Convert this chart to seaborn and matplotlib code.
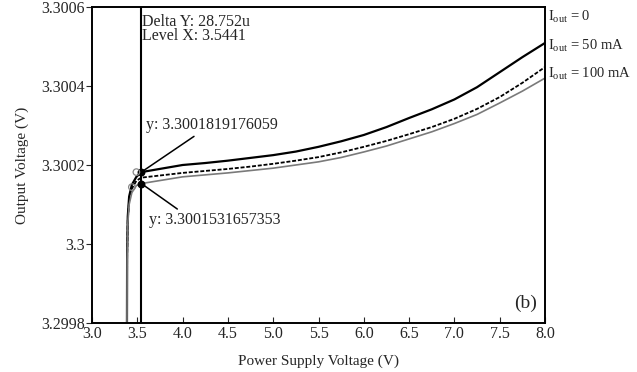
import matplotlib
matplotlib.use("Agg")
import matplotlib.pyplot as plt
import seaborn as sns
import pandas as pd

# ---- data ----
vin = [3.385, 3.388, 3.395, 3.41, 3.44, 3.49, 3.5441,
       4.0, 4.25, 4.5, 4.75, 5.0, 5.25, 5.5, 5.75, 6.0, 6.25, 6.5, 6.75, 7.0, 7.25, 7.5, 7.75, 8.0]
vout_0 = [3.29970, 3.29998, 3.30007, 3.30012, 3.30015, 3.300170, 3.300182,
          3.300200, 3.300205, 3.300211, 3.300218, 3.300225, 3.300234, 3.300246, 3.300260,
          3.300276, 3.300296, 3.300319, 3.300341, 3.300366, 3.300397, 3.300435, 3.300473, 3.300509]
vout_50 = [3.29970, 3.29997, 3.30006, 3.30011, 3.30014, 3.300160, 3.300168,
           3.300180, 3.300185, 3.300190, 3.300196, 3.300203, 3.300211, 3.300220, 3.300232,
           3.300246, 3.300261, 3.300278, 3.300296, 3.300317, 3.300342, 3.300372, 3.300408, 3.300448]
vout_100 = [3.29970, 3.29996, 3.30005, 3.30010, 3.30013, 3.300148, 3.300153,
            3.300170, 3.300175, 3.300180, 3.300186, 3.300192, 3.300200, 3.300208, 3.300219,
            3.300233, 3.300248, 3.300266, 3.300284, 3.300305, 3.300328, 3.300357, 3.300387, 3.300420]
series_names = ["Iout = 0", "Iout = 50 mA", "Iout = 100 mA"]
series_labels = [r"$\mathregular{I_{out}}$ = 0", r"$\mathregular{I_{out}}$ = 50 mA",
                 r"$\mathregular{I_{out}}$ = 100 mA"]
cursor_x = 3.5441
cursor_y = [3.3001819176059, 3.3001531657353]
cursor_labels = ["y: 3.3001819176059", "y: 3.3001531657353"]
other_x = [3.49, 3.44]
other_y = [3.300182, 3.300144]
delta_text = ["Delta Y: 28.752u", "Level X: 3.5441"]
xticks = [3.0, 3.5, 4.0, 4.5, 5.0, 5.5, 6.0, 6.5, 7.0, 7.5, 8.0]
yticks = [3.2998, 3.3, 3.3002, 3.3004, 3.3006]
ytick_labels = ["3.2998", "3.3", "3.3002", "3.3004", "3.3006"]

df = pd.DataFrame({
    "Power Supply Voltage (V)": vin * 3,
    "Output Voltage (V)": vout_0 + vout_50 + vout_100,
    "series": [series_names[0]] * len(vin) + [series_names[1]] * len(vin) + [series_names[2]] * len(vin),
})

sns.set_style("ticks")
plt.rcParams["font.family"] = ["Liberation Serif", "DejaVu Serif"]
plt.rcParams["mathtext.fontset"] = "custom"
plt.rcParams["mathtext.rm"] = "Liberation Serif"

fig = plt.figure(figsize=(6.37, 3.72), dpi=100)
ax = fig.add_axes([0.1444, 0.1317, 0.7112, 0.8495])

palette = {series_names[0]: "black", series_names[1]: "black", series_names[2]: "#7a7a7a"}
dashes = {series_names[0]: "", series_names[1]: (2.2, 1.0), series_names[2]: ""}
sns.lineplot(data=df, x="Power Supply Voltage (V)", y="Output Voltage (V)", hue="series",
             style="series", palette=palette, dashes=dashes, legend=False, ax=ax,
             linewidth=1.4, sort=False)
for ln, lw in zip(ax.get_lines(), [1.6, 1.3, 1.2]):
    ln.set_linewidth(lw)
    ln.set_solid_joinstyle("round")

# cursor line
ax.axvline(cursor_x, color="black", lw=1.5)

# cursor markers
ax.scatter([cursor_x, cursor_x], cursor_y, s=22, color="black", zorder=5)
ax.scatter(other_x, other_y, s=22, facecolors="none",
           edgecolors="#888888", linewidths=0.9, zorder=5)

ax.annotate(cursor_labels[0], xy=(cursor_x, cursor_y[0]), xytext=(3.597, 3.300301),
            fontsize=11.5, va="center", ha="left",
            arrowprops=dict(arrowstyle="-", color="black", lw=1.1, relpos=(0.4, 0.0),
                            shrinkA=0, shrinkB=0))
ax.annotate(cursor_labels[1], xy=(cursor_x, cursor_y[1]), xytext=(3.63, 3.300060),
            fontsize=11.5, va="center", ha="left",
            arrowprops=dict(arrowstyle="-", color="black", lw=1.1, relpos=(0.25, 1.0),
                            shrinkA=0, shrinkB=0))

ax.text(cursor_x + 0.005, 3.300583, delta_text[0] + "\n" + delta_text[1], fontsize=11.5,
        va="top", ha="left", linespacing=0.82)

ax.text(7.78, 3.29985, "(b)", fontsize=14, ha="center", va="center")

# right-side labels
for lab, yv in zip(series_labels, [3.300574, 3.300502, 3.300430]):
    ax.text(8.03, yv, lab, fontsize=10.5, ha="left", va="center", clip_on=False)

ax.set_xlim(3.0, 8.0)
ax.set_ylim(3.2998, 3.3006)
ax.set_xticks(xticks)
ax.set_xticklabels([f"{t:.1f}" for t in xticks])
ax.set_yticks(yticks)
ax.set_yticklabels(ytick_labels)
ax.tick_params(axis="x", direction="in", length=4, labelsize=11.5, pad=2)
ax.tick_params(axis="y", direction="out", length=4, labelsize=11.5, pad=1)
ax.set_xlabel("Power Supply Voltage (V)", fontsize=11, labelpad=9)
ax.set_ylabel("Output Voltage (V)", fontsize=11, labelpad=9)
for sp in ax.spines.values():
    sp.set_visible(True)
    sp.set_linewidth(1.4)
    sp.set_color("black")

fig.savefig("out.png", dpi=100)
